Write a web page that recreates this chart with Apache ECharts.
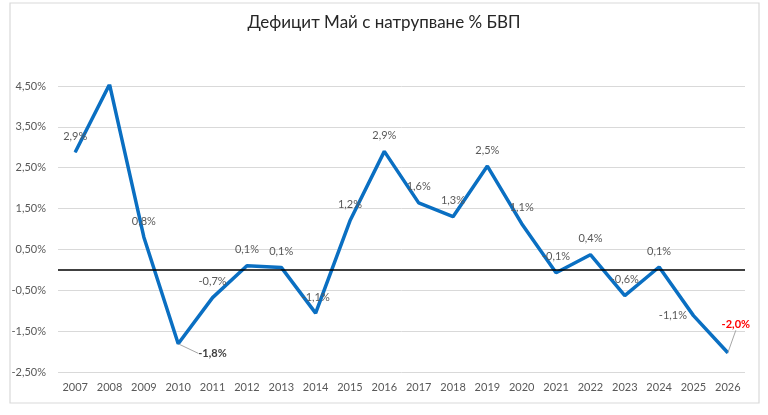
<!DOCTYPE html>
<html>
<head>
<meta charset="utf-8">
<script src="https://cdn.jsdelivr.net/npm/echarts@6/dist/echarts.min.js"></script>
<style>html,body{margin:0;padding:0;background:#fff}#c{width:768px;height:415px}</style>
</head>
<body>
<div id="c"></div>
<script>
var titleText = 'Дефицит Май с натрупване % БВП';
var categories = ['2007','2008','2009','2010','2011','2012','2013','2014','2015','2016','2017','2018','2019','2020','2021','2022','2023','2024','2025','2026'];
var deficit = [2.88, 4.54, 0.8, -1.81, -0.68, 0.1, 0.06, -1.06, 1.2, 2.9, 1.64, 1.3, 2.54, 1.13, -0.07, 0.37, -0.63, 0.07, -1.12, -2.03];
var yMin = -2.5, yMax = 4.5, yStep = 1;

function fmt1(v){ return v.toFixed(1).replace('.', ',') + '%'; }
function fmt2(v){ return v.toFixed(2).replace('.', ',') + '%'; }

var FONT = 'Lato';
var LAST = deficit.length - 1;
var seriesData = deficit.map(function(v, i){
  var item = { value: v, labelLine: { show: false } };
  if (i === 3) {
    item.label = { color: '#404040', fontWeight: 'bold' };
    item.labelLine = { show: true };
  } else if (i === LAST) {
    item.label = { color: '#ff0000', fontWeight: 'bold' };
    item.labelLine = { show: true };
  } else if (i === LAST - 1) {
    item.label = { position: 'left', distance: 6 };
  }
  return item;
});

var chart = echarts.init(document.getElementById('c'));
chart.setOption({
  animation: false,
  backgroundColor: '#fff',
  title: {
    text: titleText, left: 'center', top: 9,
    textStyle: { fontFamily: FONT, fontSize: 17, fontWeight: 'normal', color: '#262626' }
  },
  graphic: [{
    type: 'rect', silent: true,
    shape: { x: 10, y: 3, width: 749, height: 400 },
    style: { fill: 'none', stroke: '#d9d9d9', lineWidth: 1.2 }
  }],
  grid: { left: 58, right: 23, top: 86, bottom: 43 },
  xAxis: {
    type: 'category', data: categories, boundaryGap: true,
    axisLine: { show: false }, axisTick: { show: false },
    axisLabel: { fontFamily: FONT, fontSize: 11, color: '#595959', margin: 10 }
  },
  yAxis: {
    type: 'value', min: yMin, max: yMax, interval: yStep,
    axisLine: { show: false }, axisTick: { show: false },
    axisLabel: { fontFamily: FONT, fontSize: 11, color: '#595959', margin: 12, formatter: fmt2 },
    splitLine: { lineStyle: { color: '#d9d9d9', width: 1 } }
  },
  series: [{
    type: 'line', data: seriesData,
    symbol: 'circle', symbolSize: 1, showSymbol: true,
    itemStyle: { color: '#0a6fc2' },
    lineStyle: { color: '#0a6fc2', width: 3.5 },
    label: {
      show: true, position: 'top', distance: 10,
      fontFamily: FONT, fontSize: 11, color: '#595959',
      formatter: function(p){ return fmt1(p.value); }
    },
    labelLine: { show: true, minTurnAngle: 0, lineStyle: { color: '#a6a6a6', width: 1 } },
    labelLayout: function(p){
      var r = p.rect;
      if (p.dataIndex === 3) {
        return { x: r.x + r.width / 2 + 20, y: r.y + r.height + 9, align: 'left', verticalAlign: 'middle' };
      }
      if (p.dataIndex === LAST) return { dx: 8, dy: -12 };
      return {};
    },
    markLine: {
      silent: true, symbol: 'none', label: { show: false },
      lineStyle: { color: '#000', width: 1.5, type: 'solid' },
      data: [{ yAxis: 0 }]
    },
    z: 3
  }]
});
</script>
</body>
</html>
